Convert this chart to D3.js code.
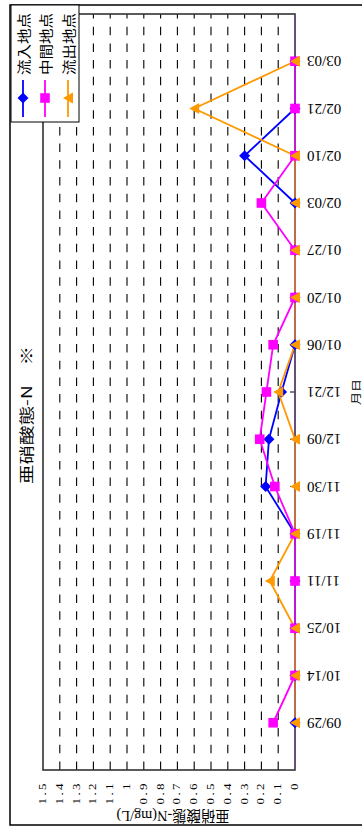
<!DOCTYPE html>
<html>
<head>
<meta charset="utf-8">
<script src="https://cdn.jsdelivr.net/npm/d3@7/dist/d3.min.js"></script>
<style>
  body { margin: 0; background: #fff; }
  svg { display: block; }
</style>
</head>
<body>
<div id="vis"></div>
<script>
// data
var dates = ['09/29', '10/14', '10/25', '11/11', '11/19', '11/30', '12/09', '12/21',
             '01/06', '01/20', '01/27', '02/03', '02/10', '02/21', '03/03'];
var inflow  = [0, 0, 0, 0, 0, 0.175, 0.155, 0.08, 0, 0, 0, 0, 0.3, 0, 0];
var middle  = [0.13, 0, 0, 0, 0, 0.12, 0.21, 0.17, 0.13, 0, 0, 0.2, 0, 0, 0];
var outflow = [0, 0, 0, 0.15, 0, 0, 0, 0.1, 0, 0, 0, 0, 0, 0.6, 0];
var yTicks = [0, 0.1, 0.2, 0.3, 0.4, 0.5, 0.6, 0.7, 0.8, 0.9, 1, 1.1, 1.2, 1.3, 1.4, 1.5];
var seriesNames = ['流入地点', '中間地点', '流出地点'];

var W = 828, H = 362;   // chart drawn landscape, then turned a quarter
var margin = { left: 58, right: 14, top: 43, bottom: 67 };

var svg = d3.select('#vis')
    .append('svg')
    .attr('width', 362)
    .attr('height', 828);

// whole chart is turned 90deg counter-clockwise
var root = svg.append('g')
    .attr('transform', 'translate(0,' + W + ') rotate(-90)');

root.append('rect')
    .attr('x', 3).attr('y', 10)
    .attr('width', 820).attr('height', 380)
    .attr('fill', '#fff')
    .attr('stroke', '#000')
    .attr('stroke-width', 1.5);

var x = d3.scalePoint()
    .domain(dates)
    .range([margin.left, W - margin.right])
    .padding(1);

var y = d3.scaleLinear()
    .domain([0, 1.5])
    .range([H - margin.bottom, margin.top]);

var serif = "'Liberation Serif', 'Noto Sans CJK JP', serif";
var gothic = "'Noto Sans CJK JP', sans-serif";

var label = function (parent, px, py, rot, sx, sy) {
    return parent.append('text')
        .attr('transform', 'translate(' + px + ',' + py + ') rotate(' + rot + ') scale(' + sx + ',' + sy + ')');
};

/* ****** grid ****** */
root.append('g')
    .selectAll('line')
    .data(yTicks.filter(function (d) { return d > 0 && d < 1.5; }))
    .enter()
    .append('line')
    .attr('x1', margin.left)
    .attr('x2', W - margin.right)
    .attr('y1', function (d) { return y(d); })
    .attr('y2', function (d) { return y(d); })
    .attr('stroke', '#000')
    .attr('stroke-width', 1.1)
    .attr('stroke-dasharray', '8.5,8.2');

// category ticks
root.append('g')
    .selectAll('line')
    .data(dates)
    .enter()
    .append('line')
    .attr('x1', function (d) { return x(d); })
    .attr('x2', function (d) { return x(d); })
    .attr('y1', y(0))
    .attr('y2', y(0) - 5)
    .attr('stroke', '#000');

root.append('rect')
    .attr('x', margin.left).attr('y', margin.top)
    .attr('width', W - margin.left - margin.right)
    .attr('height', H - margin.top - margin.bottom)
    .attr('fill', 'none')
    .attr('stroke', '#333')
    .attr('stroke-width', 1.6);

/* ****** axis labels ****** */
dates.forEach(function (d) {
    label(root, x(d), y(0) + 12, -90, 1, 1)
        .attr('text-anchor', 'end')
        .attr('dominant-baseline', 'central')
        .style('font-family', serif)
        .style('font-size', '15px')
        .text(d);
});

yTicks.forEach(function (d) {
    label(root, margin.left - 11, y(d), 0, 1, 0.8)
        .attr('text-anchor', 'end')
        .attr('dominant-baseline', 'central')
        .style('font-family', serif)
        .style('font-size', '13px')
        .style('letter-spacing', '2.4px')
        .text(String(d));
});

label(root, 12, (margin.top + H - margin.bottom) / 2 + 4, -90, 1, 1)
    .attr('text-anchor', 'middle')
    .attr('dominant-baseline', 'central')
    .attr('textLength', 113)
    .attr('lengthAdjust', 'spacingAndGlyphs')
    .style('font-family', serif)
    .style('font-size', '15px')
    .text('亜硝酸態-N(mg/L)');

label(root, 436, 355, 0, 1, 0.8)
    .attr('text-anchor', 'middle')
    .attr('dominant-baseline', 'central')
    .style('font-family', gothic)
    .style('font-size', '13px')
    .text('月日');

label(root, 413, 26, 0, 1, 0.74)
    .attr('text-anchor', 'middle')
    .attr('dominant-baseline', 'central')
    .style('font-family', gothic)
    .style('font-size', '19.5px')
    .text('亜硝酸態-N　※');

/* ****** series ****** */
var markers = {
    diamond: 'M0,-5.5L5.5,0L0,5.5L-5.5,0Z',
    square: 'M-4.8,-4.8H4.8V4.8H-4.8Z',
    triangle: 'M0,-5L5.5,5H-5.5Z'
};

var series = [
    { name: seriesNames[0], values: inflow, color: '#0000ff', marker: markers.diamond },
    { name: seriesNames[1], values: middle, color: '#ff00ff', marker: markers.square },
    { name: seriesNames[2], values: outflow, color: '#ff9900', marker: markers.triangle }
];

var line = d3.line()
    .x(function (d, i) { return x(dates[i]); })
    .y(function (d) { return y(d); });

var lineLayer = root.append('g');
var axisLayer = root.append('g');
var markLayer = root.append('g');

series.forEach(function (s) {
    lineLayer.append('path')
        .datum(s.values)
        .attr('d', line)
        .attr('fill', 'none')
        .attr('stroke', s.color)
        .attr('stroke-width', 1.8);
    markLayer.append('g')
        .selectAll('path')
        .data(s.values)
        .enter()
        .append('path')
        .attr('d', s.marker)
        .attr('fill', s.color)
        .attr('transform', function (d, i) { return 'translate(' + x(dates[i]) + ',' + y(d) + ')'; });
});

// thin axis line shows through the overlapping zero lines
axisLayer.append('line')
    .attr('x1', margin.left).attr('x2', W - margin.right)
    .attr('y1', y(0)).attr('y2', y(0))
    .attr('stroke', '#7a3fa0')
    .attr('stroke-width', 0.8);

/* ****** legend ****** */
var legend = root.append('g');
legend.append('rect')
    .attr('x', 706).attr('y', 11)
    .attr('width', 117).attr('height', 68)
    .attr('fill', '#fff')
    .attr('stroke', '#000')
    .attr('stroke-width', 1);

var rowY = [23, 45, 68];
series.forEach(function (s, i) {
    legend.append('line')
        .attr('x1', 711).attr('x2', 748)
        .attr('y1', rowY[i]).attr('y2', rowY[i])
        .attr('stroke', s.color)
        .attr('stroke-width', 1.8);
    legend.append('path')
        .attr('d', s.marker)
        .attr('fill', s.color)
        .attr('transform', 'translate(730,' + rowY[i] + ')');
    label(legend, 753, rowY[i], 0, 1, 0.85)
        .attr('dominant-baseline', 'central')
        .style('font-family', gothic)
        .style('font-size', '15.5px')
        .text(s.name);
});
</script>
</body>
</html>
